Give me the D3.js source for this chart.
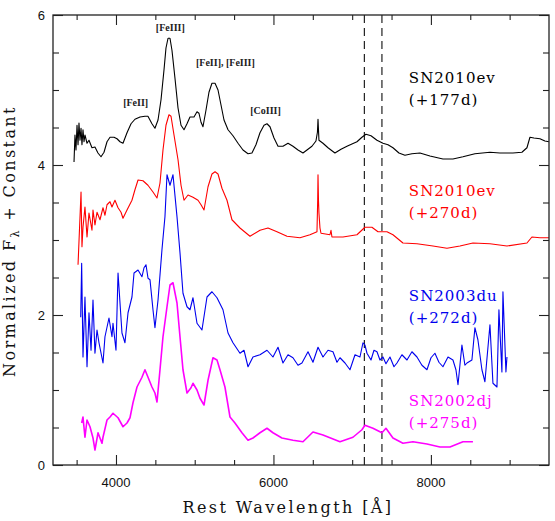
<!DOCTYPE html>
<html>
<head>
<meta charset="utf-8">
<title>Nebular spectra</title>
<script src="https://d3js.org/d3.v7.min.js"></script>
<style>
  body { margin: 0; background: #fff; }
  .frame { fill: none; stroke: #222; stroke-width: 1.3; }
  .tick line { stroke: #222; stroke-width: 1.1; }
  .ticklab { font-family: "Liberation Sans", Arial, sans-serif; font-size: 13px; fill: #111; }
  .axlab { font-family: "DejaVu Serif", serif; font-size: 16px; fill: #111; letter-spacing: 2.4px; }
  .sn { font-family: "DejaVu Serif", serif; font-size: 15px; letter-spacing: 1px; }
  .ion { font-family: "Liberation Serif", "Times New Roman", serif; font-size: 10px; font-weight: bold; fill: #222; }
  .spec { fill: none; stroke-linejoin: round; }
</style>
</head>
<body>
<div id="chart"></div>
<script>
// spectra: [rest wavelength (A), normalized flux + constant]
var sn2010ev_177 = [
  [3467,4.04],[3479,4.40],[3492,4.20],[3505,4.53],[3518,4.27],[3530,4.56],[3543,4.33],[3556,4.49],
  [3568,4.27],[3581,4.47],[3594,4.31],[3606,4.40],[3632,4.29],[3657,4.33],[3695,4.23],[3733,4.24],
  [3771,4.16],[3810,4.11],[3848,4.17],[3886,4.31],[3924,4.37],[3975,4.37],[4013,4.35],[4051,4.31],
  [4089,4.29],[4140,4.43],[4191,4.55],[4241,4.61],[4305,4.64],[4368,4.65],[4406,4.65],[4457,4.55],
  [4495,4.49],[4534,4.60],[4572,4.87],[4610,5.27],[4635,5.56],[4661,5.69],[4686,5.69],[4711,5.53],
  [4749,5.16],[4788,4.76],[4826,4.53],[4864,4.47],[4902,4.55],[4940,4.64],[4991,4.64],[5029,4.71],
  [5054,4.69],[5080,4.57],[5105,4.51],[5143,4.73],[5181,4.97],[5219,5.09],[5258,5.09],[5296,5.00],
  [5334,4.80],[5372,4.60],[5423,4.47],[5486,4.39],[5550,4.29],[5613,4.20],[5677,4.15],[5727,4.16],
  [5778,4.27],[5829,4.43],[5880,4.53],[5918,4.55],[5956,4.51],[6007,4.36],[6058,4.25],[6121,4.25],
  [6185,4.29],[6248,4.25],[6312,4.20],[6375,4.16],[6426,4.20],[6489,4.25],[6540,4.32],[6559,4.44],
  [6566,4.61],[6572,4.47],[6578,4.33],[6629,4.29],[6693,4.23],[6781,4.16],[6858,4.21],[6934,4.25],
  [6997,4.28],[7061,4.31],[7124,4.37],[7175,4.41],[7239,4.39],[7315,4.33],[7391,4.29],[7455,4.27],
  [7518,4.23],[7594,4.16],[7670,4.13],[7759,4.15],[7861,4.16],[7988,4.12],[8153,4.08],[8280,4.08],
  [8407,4.11],[8559,4.15],[8750,4.17],[8877,4.16],[9042,4.16],[9156,4.17],[9220,4.23],[9258,4.37],
  [9309,4.36],[9385,4.35],[9448,4.32],[9499,4.31]
];
var sn2010ev_270 = [
  [3518,2.67],[3556,3.64],[3568,2.91],[3581,3.17],[3606,3.44],[3632,3.04],[3657,3.36],[3695,3.13],
  [3708,3.40],[3733,3.20],[3759,3.37],[3797,3.27],[3835,3.43],[3860,3.33],[3886,3.47],[3924,3.51],
  [3949,3.44],[3987,3.53],[4026,3.43],[4064,3.37],[4089,3.29],[4140,3.40],[4203,3.53],[4241,3.67],
  [4280,3.80],[4343,3.79],[4406,3.73],[4470,3.64],[4521,3.56],[4559,3.76],[4597,4.20],[4635,4.53],
  [4673,4.67],[4699,4.65],[4737,4.40],[4788,4.07],[4826,3.73],[4864,3.53],[4915,3.60],[4978,3.57],
  [5042,3.53],[5080,3.47],[5118,3.40],[5169,3.71],[5219,3.88],[5258,3.91],[5296,3.88],[5346,3.69],
  [5410,3.53],[5473,3.27],[5575,3.16],[5702,3.05],[5829,3.13],[5931,3.16],[6045,3.11],[6172,3.05],
  [6337,3.03],[6464,3.07],[6553,3.11],[6562,3.53],[6566,3.87],[6572,3.53],[6578,3.36],[6591,3.16],
  [6604,3.09],[6718,3.07],[6731,3.13],[6743,3.04],[6883,3.04],[7061,3.07],[7162,3.17],[7251,3.17],
  [7328,3.11],[7442,3.11],[7518,3.07],[7645,2.96],[7823,2.95],[8026,2.92],[8204,2.89],[8369,2.92],
  [8534,2.96],[8750,2.95],[8966,2.92],[9220,2.96],[9283,3.04],[9385,3.03],[9499,3.03]
];
var sn2003du_272 = [
  [3552,1.97],[3564,2.69],[3581,1.44],[3606,2.24],[3632,1.31],[3657,2.03],[3683,1.53],[3708,2.20],
  [3733,1.49],[3759,1.80],[3784,1.63],[3835,1.36],[3860,1.71],[3911,1.96],[3949,1.71],[3962,1.89],
  [4000,1.53],[4026,2.56],[4076,1.76],[4114,1.63],[4153,2.03],[4203,2.24],[4229,2.56],[4280,2.60],
  [4330,2.51],[4356,2.63],[4381,2.67],[4407,2.49],[4432,2.47],[4470,2.07],[4495,1.83],[4534,2.20],
  [4584,2.87],[4622,3.31],[4648,3.87],[4686,3.73],[4724,3.87],[4775,3.31],[4813,2.83],[4851,2.29],
  [4902,2.11],[4940,2.07],[4978,2.23],[5029,1.89],[5092,1.80],[5156,2.24],[5219,2.31],[5283,2.23],
  [5359,2.07],[5423,1.76],[5486,1.63],[5575,1.49],[5626,1.53],[5677,1.31],[5740,1.44],[5829,1.47],
  [5918,1.53],[5994,1.44],[6058,1.57],[6121,1.36],[6185,1.47],[6248,1.43],[6312,1.33],[6362,1.36],
  [6439,1.51],[6502,1.37],[6566,1.57],[6629,1.44],[6693,1.53],[6756,1.51],[6807,1.37],[6845,1.43],
  [6909,1.36],[6972,1.27],[7036,1.47],[7099,1.44],[7137,1.63],[7162,1.60],[7188,1.49],[7239,1.40],
  [7277,1.53],[7315,1.51],[7353,1.40],[7391,1.44],[7429,1.35],[7480,1.44],[7531,1.31],[7569,1.36],
  [7632,1.47],[7696,1.40],[7759,1.51],[7823,1.44],[7886,1.33],[7950,1.27],[8001,1.43],[8051,1.49],
  [8102,1.37],[8153,1.31],[8217,1.44],[8280,1.40],[8318,1.27],[8344,1.07],[8394,1.60],[8432,1.33],
  [8458,1.36],[8521,1.40],[8559,1.83],[8597,1.67],[8648,1.27],[8686,1.11],[8750,1.87],[8788,1.09],
  [8839,1.04],[8864,2.07],[8902,1.24],[8915,2.31],[8953,1.24],[8966,1.44]
];
var sn2002dj_275 = [
  [3564,0.56],[3581,0.64],[3606,0.37],[3632,0.60],[3670,0.51],[3708,0.36],[3733,0.20],[3772,0.43],
  [3822,0.29],[3835,0.37],[3886,0.60],[3924,0.64],[3962,0.69],[4026,0.63],[4089,0.51],[4140,0.56],
  [4178,0.63],[4216,0.83],[4267,1.04],[4330,1.17],[4368,1.27],[4407,1.17],[4457,1.04],[4495,0.96],
  [4521,0.84],[4559,1.27],[4597,1.71],[4648,2.11],[4686,2.40],[4724,2.43],[4775,2.16],[4813,1.71],
  [4851,1.27],[4902,0.96],[4953,1.03],[4978,1.09],[5029,1.00],[5067,0.89],[5118,0.80],[5169,1.13],
  [5232,1.43],[5283,1.40],[5321,1.27],[5384,1.04],[5448,0.64],[5511,0.56],[5600,0.43],[5677,0.33],
  [5740,0.36],[5829,0.43],[5918,0.49],[5994,0.43],[6108,0.36],[6248,0.33],[6375,0.31],[6502,0.44],
  [6629,0.40],[6845,0.31],[7010,0.37],[7124,0.47],[7162,0.53],[7264,0.49],[7378,0.43],[7429,0.49],
  [7518,0.36],[7645,0.29],[7772,0.31],[7950,0.28],[8115,0.24],[8242,0.24],[8407,0.31],[8534,0.31]
];

var seriesNames = ["SN2010ev", "SN2010ev", "SN2003du", "SN2002dj"];
var seriesEpochs = ["(+177d)", "(+270d)", "(+272d)", "(+275d)"];
var seriesColors = ["#000000", "#ff0000", "#0000ee", "#ff00ff"];
var seriesLabelY = [5.09, 3.59, 2.19, 0.79];   // flux level of the first label line
var spectra = [sn2010ev_177, sn2010ev_270, sn2003du_272, sn2002dj_275];

var lineIds = ["[FeII]", "[FeIII]", "[FeII], [FeIII]", "[CoIII]"];
var lineIdX = [4250, 4690, 5390, 5900];
var lineIdY = [4.79, 5.79, 5.32, 4.68];

var markerLines = [7155, 7378];

var xDomain = [3200, 9500];
var yDomain = [0, 6];
var xMajor = [4000, 6000, 8000];
var yMajor = [0, 2, 4, 6];

var W = 555, H = 521;
var margin = {top: 15, right: 6, bottom: 56, left: 53};
var width = W - margin.left - margin.right;
var height = H - margin.top - margin.bottom;

var x = d3.scaleLinear().domain(xDomain).range([0, width]);
var y = d3.scaleLinear().domain(yDomain).range([height, 0]);

var svg = d3.select("#chart").append("svg")
    .attr("width", W)
    .attr("height", H);
var g = svg.append("g")
    .attr("transform", "translate(" + margin.left + "," + margin.top + ")");

var xMinor = d3.range(3500, 9500, 500).filter(function(d) { return xMajor.indexOf(d) < 0; });
var yMinor = d3.range(0.5, 6, 0.5).filter(function(d) { return yMajor.indexOf(d) < 0; });

function ticks(axis, vals, len) {
    return axis.tickValues(vals).tickSize(len).tickFormat("");
}
function noDomain(s) { s.select(".domain").remove(); }

// inward ticks on all four sides
g.append("g").attr("class", "tick").attr("transform", "translate(0," + height + ")")
    .call(ticks(d3.axisTop(x), xMajor, 10)).call(noDomain);
g.append("g").attr("class", "tick").attr("transform", "translate(0," + height + ")")
    .call(ticks(d3.axisTop(x), xMinor, 5)).call(noDomain);
g.append("g").attr("class", "tick")
    .call(ticks(d3.axisBottom(x), xMajor, 10)).call(noDomain);
g.append("g").attr("class", "tick")
    .call(ticks(d3.axisBottom(x), xMinor, 5)).call(noDomain);
g.append("g").attr("class", "tick")
    .call(ticks(d3.axisRight(y), yMajor, 10)).call(noDomain);
g.append("g").attr("class", "tick")
    .call(ticks(d3.axisRight(y), yMinor, 6)).call(noDomain);
g.append("g").attr("class", "tick").attr("transform", "translate(" + width + ",0)")
    .call(ticks(d3.axisLeft(y), yMajor, 10)).call(noDomain);
g.append("g").attr("class", "tick").attr("transform", "translate(" + width + ",0)")
    .call(ticks(d3.axisLeft(y), yMinor, 6)).call(noDomain);
g.selectAll(".tick line").attr("stroke", "#222");

// tick labels
g.selectAll(".xlab").data(xMajor).enter().append("text")
    .attr("class", "ticklab")
    .attr("x", function(d) { return x(d); })
    .attr("y", height + 22)
    .attr("text-anchor", "middle")
    .text(function(d) { return d; });
g.selectAll(".ylab").data(yMajor).enter().append("text")
    .attr("class", "ticklab")
    .attr("x", -8)
    .attr("y", function(d) { return y(d) + 5; })
    .attr("text-anchor", "end")
    .text(function(d) { return d; });

// dashed marker lines
g.selectAll(".marker").data(markerLines).enter().append("line")
    .attr("x1", function(d) { return x(d); })
    .attr("x2", function(d) { return x(d); })
    .attr("y1", 0).attr("y2", height)
    .attr("stroke", "#222").attr("stroke-width", 1.2)
    .attr("stroke-dasharray", "8,5");

var line = d3.line()
    .x(function(d) { return x(d[0]); })
    .y(function(d) { return y(d[1]); });

g.selectAll(".spec").data(spectra).enter().append("path")
    .attr("class", "spec")
    .attr("d", line)
    .attr("stroke", function(d, i) { return seriesColors[i]; })
    .attr("stroke-width", function(d, i) { return i === 3 ? 1.6 : 1.1; });

// series labels
seriesNames.forEach(function(name, i) {
    var t = g.append("text")
        .attr("class", "sn")
        .attr("x", x(7720))
        .attr("y", y(seriesLabelY[i]))
        .attr("fill", seriesColors[i]);
    t.append("tspan").text(name);
    t.append("tspan").attr("x", x(7720)).attr("dy", 22).text(seriesEpochs[i]);
});

// line identifications
g.selectAll(".ion").data(lineIds).enter().append("text")
    .attr("class", "ion")
    .attr("x", function(d, i) { return x(lineIdX[i]); })
    .attr("y", function(d, i) { return y(lineIdY[i]); })
    .attr("text-anchor", "middle")
    .text(function(d) { return d; });

// frame
g.append("rect").attr("class", "frame")
    .attr("x", 0).attr("y", 0).attr("width", width).attr("height", height);

// axis titles
svg.append("text")
    .attr("class", "axlab")
    .attr("x", 288).attr("y", 513)
    .attr("text-anchor", "middle")
    .text("Rest Wavelength [Å]");

var yt = svg.append("text")
    .attr("class", "axlab")
    .attr("transform", "translate(15,241) rotate(-90)")
    .attr("text-anchor", "middle");
yt.append("tspan").text("Normalized F");
yt.append("tspan").attr("dy", 4).attr("font-size", "11px").text("λ");
yt.append("tspan").attr("dy", -4).text(" + Constant");
</script>
</body>
</html>
